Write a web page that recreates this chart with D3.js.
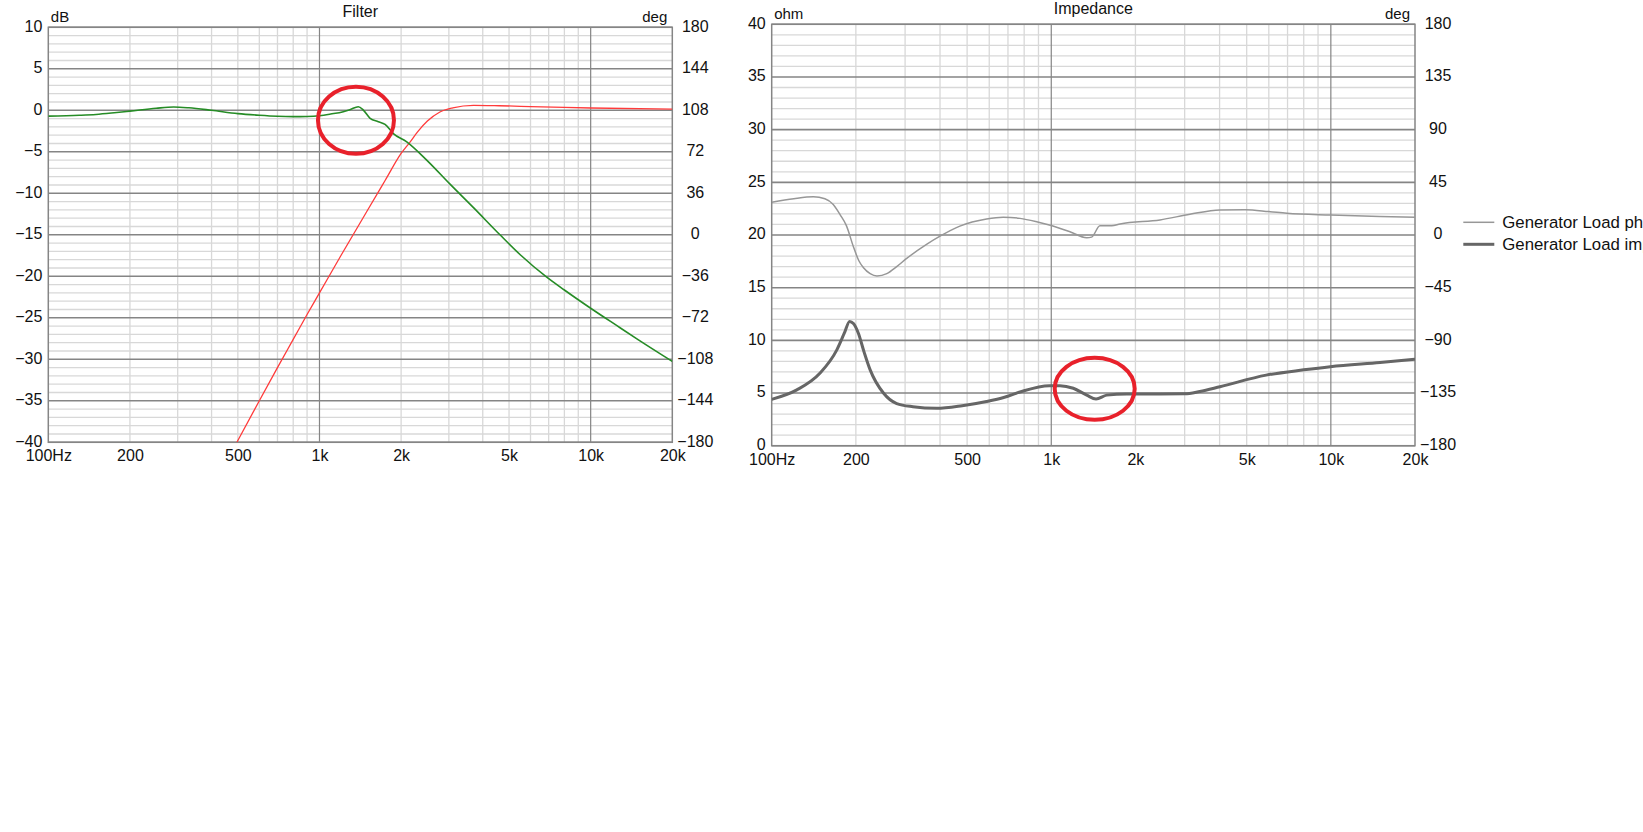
<!DOCTYPE html>
<html><head><meta charset="utf-8">
<script src="https://cdn.jsdelivr.net/npm/d3@7"></script>
<style>
body{margin:0;background:#fff}
svg{display:block}
text{font-family:"Liberation Sans",Arial,sans-serif;fill:#111}
</style>
</head><body>
<svg id="c" width="1643" height="832"></svg>
<script>
// ---------- data ----------
const freqTicks  = [100, 200, 500, 1000, 2000, 5000, 10000, 20000];
const freqLabels = ["100Hz", "200", "500", "1k", "2k", "5k", "10k", "20k"];
const freqMinor  = [200, 300, 400, 500, 600, 700, 800, 900, 2000, 3000, 4000, 5000, 6000, 7000, 8000, 9000];
const freqMajor  = [1000, 10000];

const dbTicks        = [10, 5, 0, -5, -10, -15, -20, -25, -30, -35, -40];
const filterDegTicks = [180, 144, 108, 72, 36, 0, -36, -72, -108, -144, -180];
const ohmTicks       = [40, 35, 30, 25, 20, 15, 10, 5, 0];
const impDegTicks    = [180, 135, 90, 45, 0, -45, -90, -135, -180];

// Filter: green (low-pass) response, dB
const lowFreq = [100, 130, 150, 175, 200, 250, 290, 330, 400, 500, 600, 700, 800, 900, 1000, 1100, 1224, 1300, 1390, 1451, 1537, 1648, 1745, 1872, 2098, 2485, 3030, 3690, 4630, 5500, 6887, 8000, 10000, 12500, 15000, 20000];
const lowDb   = [-0.7, -0.6, -0.5, -0.3, -0.1, 0.25, 0.4, 0.3, 0.0, -0.4, -0.6, -0.72, -0.76, -0.74, -0.65, -0.45, -0.17, 0.1, 0.43, 0.03, -0.97, -1.37, -1.7, -2.8, -3.8, -6.0, -8.9, -11.7, -15.0, -17.4, -20.1, -21.65, -23.85, -25.95, -27.65, -30.25];

// Filter: red (high-pass) response, dB
const highFreq = [496, 600, 700, 800, 900, 1000, 1200, 1500, 1750, 2000, 2160, 2300, 2500, 2780, 3100, 3700, 4600, 6000, 8000, 10000, 20000];
const highDb   = [-40, -35, -31, -27.6, -24.6, -22.0, -17.5, -12.1, -8.4, -5.2, -3.8, -2.6, -1.3, -0.2, 0.3, 0.6, 0.55, 0.45, 0.35, 0.28, 0.15];

// Impedance chart: generator load impedance (ohm)
const impFreq = [100, 123, 149, 171, 182, 190, 196, 204, 214, 225, 251, 280, 320, 389, 480, 587, 680, 773, 984, 1074, 1199, 1339, 1446, 1579, 1862, 2449, 3000, 3400, 4012, 5870, 8000, 9950, 15000, 20000];
const impOhm  = [4.4, 5.3, 6.9, 9.1, 10.7, 11.8, 11.6, 10.7, 8.9, 7.2, 5.0, 4.0, 3.7, 3.55, 3.8, 4.2, 4.6, 5.1, 5.7, 5.7, 5.45, 4.8, 4.43, 4.8, 4.9, 4.9, 4.92, 5.15, 5.6, 6.7, 7.2, 7.5, 7.9, 8.2];

// Impedance chart: generator load phase (deg)
const phaseFreq = [100, 120, 141, 155, 166, 176, 185, 196, 205, 213, 225, 238, 258, 280, 304, 358, 400, 471, 587, 673, 773, 880, 984, 1166, 1339, 1394, 1493, 1644, 1762, 2449, 3134, 4012, 4946, 6000, 6966, 10000, 15000, 20000];
const phaseDeg  = [28, 31, 32.6, 31, 26, 17, 8, -10, -22, -28, -33, -35, -33, -27, -20, -8, -1, 7.6, 13.7, 15.2, 14.2, 11.5, 8.5, 2.8, -2.3, -1.8, 7.8, 7.8, 9.4, 12.9, 17.7, 21.4, 21.6, 20, 18.5, 17, 15.8, 15.1];

const legendLabels = ["Generator Load phase", "Generator Load impedance"];

// red annotation ellipses: centre in data units
const filterNoteFreq = 1363, filterNoteDb = -1.2;
const impNoteFreq = 1430, impNoteOhm = 5.4;

// ---------- drawing ----------
const svg = d3.select("#c");
const MAJ = "#858585", MIN = "#d8d8d8";

function drawFrame(g, x, y, yTicks, rightLabels, yMinorStep, opt) {
  const [x0, x1] = x.range();
  const [y0, y1] = y.range();
  const yDom = y.domain();
  const minorVals = d3.range(yDom[0], yDom[1] + 1e-9, yMinorStep).filter(v => !yTicks.includes(v));
  g.selectAll(".hmin").data(minorVals).join("line")
    .attr("x1", x0).attr("x2", x1).attr("y1", d => y(d)).attr("y2", d => y(d))
    .attr("stroke", MIN).attr("stroke-width", 1.3);
  g.selectAll(".vmin").data(freqMinor).join("line")
    .attr("x1", d => x(d)).attr("x2", d => x(d)).attr("y1", y0).attr("y2", y1)
    .attr("stroke", MIN).attr("stroke-width", 1.3);
  g.selectAll(".hmaj").data(yTicks).join("line")
    .attr("x1", x0).attr("x2", x1).attr("y1", d => y(d)).attr("y2", d => y(d))
    .attr("stroke", MAJ).attr("stroke-width", 1.6);
  g.selectAll(".vmaj").data(freqMajor).join("line")
    .attr("x1", d => x(d)).attr("x2", d => x(d)).attr("y1", y0).attr("y2", y1)
    .attr("stroke", MAJ).attr("stroke-width", 1.2);
  g.append("rect").attr("x", x0).attr("y", y1).attr("width", x1 - x0).attr("height", y0 - y1)
    .attr("fill", "none").attr("stroke", MAJ).attr("stroke-width", 1.5);

  const left = d3.axisLeft(y).tickValues(yTicks).tickSize(0).tickPadding(6);
  const ga = g.append("g").attr("transform", `translate(${x0},0)`).call(left);
  ga.select(".domain").remove();
  ga.selectAll("text").attr("font-size", 16).attr("fill", "#111").attr("dy", "0.24em")
    .attr("font-family", '"Liberation Sans",Arial,sans-serif');

  const yR = d3.scaleLinear().domain([rightLabels[rightLabels.length - 1], rightLabels[0]]).range([y0, y1]);
  const right = d3.axisRight(yR).tickValues(rightLabels).tickSize(0).tickPadding(0);
  const gr = g.append("g").attr("transform", `translate(${x1 + 23},0)`).call(right);
  gr.select(".domain").remove();
  gr.selectAll("text").attr("font-size", 16).attr("fill", "#111").attr("text-anchor", "middle").attr("dy", "0.24em")
    .attr("font-family", '"Liberation Sans",Arial,sans-serif');

  const bottom = d3.axisBottom(x).tickValues(freqTicks).tickFormat((d, i) => freqLabels[i]).tickSize(0).tickPadding(7.5);
  const gb = g.append("g").attr("transform", `translate(0,${y0})`).call(bottom);
  gb.select(".domain").remove();
  gb.selectAll("text").attr("font-size", 16).attr("fill", "#111")
    .attr("font-family", '"Liberation Sans",Arial,sans-serif');

  g.append("text").attr("x", (x0 + x1) / 2).attr("y", opt.titleY).attr("text-anchor", "middle")
    .attr("font-size", 16).text(opt.title);
  g.append("text").attr("x", x0 + 2.5).attr("y", y1 - 5.5).attr("font-size", 15).text(opt.unitL);
  g.append("text").attr("x", x1 - 5).attr("y", y1 - 5.5).attr("text-anchor", "end").attr("font-size", 15).text("deg");
  return yR;
}

function addClip(id, x, y) {
  const [x0, x1] = x.range(); const [y0, y1] = y.range();
  svg.append("clipPath").attr("id", id).append("rect")
    .attr("x", x0).attr("y", y1).attr("width", x1 - x0).attr("height", y0 - y1);
}

// ===== Filter chart =====
const xF = d3.scaleLog().domain([100, 20000]).range([48.3, 672.3]);
const yF = d3.scaleLinear().domain([-40, 10]).range([442.3, 27.3]);
const gF = svg.append("g");
drawFrame(gF, xF, yF, dbTicks, filterDegTicks, 1, {title: "Filter", titleY: 17, unitL: "dB"});
addClip("clipF", xF, yF);
const lineF = d3.line().x(d => xF(d[0])).y(d => yF(d[1])).curve(d3.curveMonotoneX);
gF.append("path").attr("clip-path", "url(#clipF)")
  .attr("d", lineF(d3.zip(highFreq, highDb)))
  .attr("fill", "none").attr("stroke", "#ff3b3b").attr("stroke-width", 1.3);
gF.append("path").attr("clip-path", "url(#clipF)")
  .attr("d", lineF(d3.zip(lowFreq, lowDb)))
  .attr("fill", "none").attr("stroke", "#268c26").attr("stroke-width", 1.6);
gF.append("ellipse").attr("cx", xF(filterNoteFreq)).attr("cy", yF(filterNoteDb))
  .attr("rx", 38).attr("ry", 33.5).attr("fill", "none").attr("stroke", "#e8212b").attr("stroke-width", 4);

// ===== Impedance chart =====
const xI = d3.scaleLog().domain([100, 20000]).range([771.7, 1415]);
const yI = d3.scaleLinear().domain([0, 40]).range([445.7, 24.3]);
const gI = svg.append("g");
const yIdeg = drawFrame(gI, xI, yI, ohmTicks, impDegTicks, 1, {title: "Impedance", titleY: 14, unitL: "ohm"});
addClip("clipI", xI, yI);
gI.append("path").attr("clip-path", "url(#clipI)")
  .attr("d", d3.line().x(d => xI(d[0])).y(d => yIdeg(d[1])).curve(d3.curveMonotoneX)(d3.zip(phaseFreq, phaseDeg)))
  .attr("fill", "none").attr("stroke", "#979797").attr("stroke-width", 1.5);
gI.append("path").attr("clip-path", "url(#clipI)")
  .attr("d", d3.line().x(d => xI(d[0])).y(d => yI(d[1])).curve(d3.curveMonotoneX)(d3.zip(impFreq, impOhm)))
  .attr("fill", "none").attr("stroke", "#666").attr("stroke-width", 3);
gI.append("ellipse").attr("cx", xI(impNoteFreq)).attr("cy", yI(impNoteOhm))
  .attr("rx", 40).attr("ry", 31).attr("fill", "none").attr("stroke", "#e8212b").attr("stroke-width", 4);

// legend
const legStyles = [{c: "#979797", w: 1.5}, {c: "#666", w: 3}];
const leg = svg.append("g").selectAll("g").data(legendLabels).join("g")
  .attr("transform", (d, i) => `translate(1463.3,${222.3 + i * 22})`);
leg.append("line").attr("x1", 0).attr("x2", 31).attr("y1", 0).attr("y2", 0)
  .attr("stroke", (d, i) => legStyles[i].c).attr("stroke-width", (d, i) => legStyles[i].w);
leg.append("text").attr("x", 39).attr("y", 5.8).attr("font-size", 16.8).text(d => d);
</script>
</body></html>
